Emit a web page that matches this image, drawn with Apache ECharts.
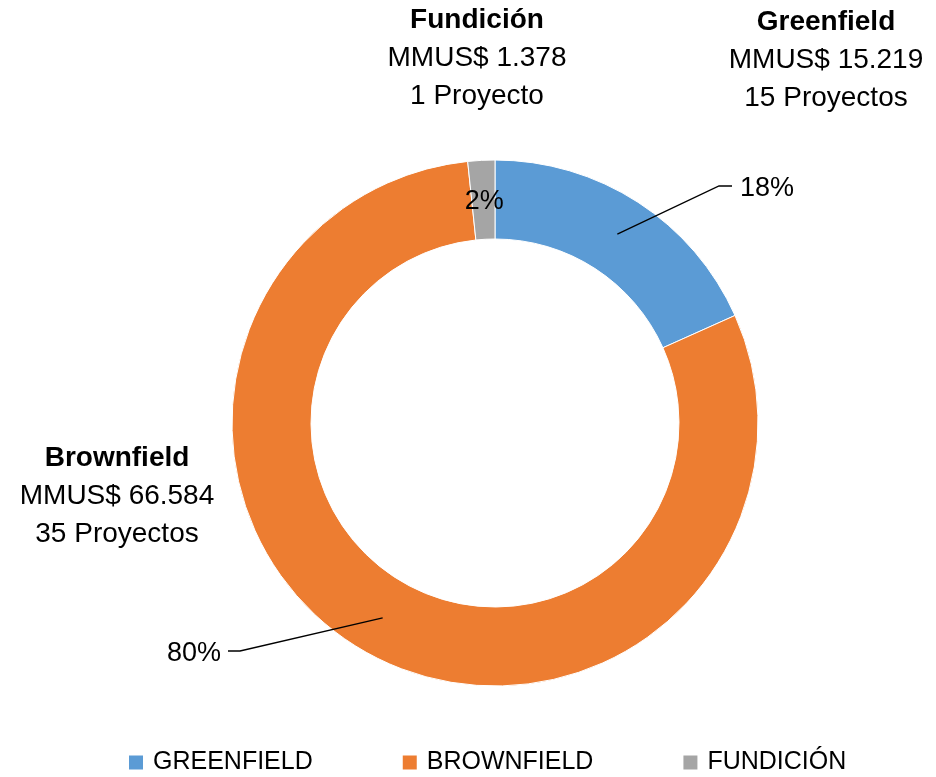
<!DOCTYPE html>
<html>
<head>
<meta charset="utf-8">
<script src="https://cdn.jsdelivr.net/npm/echarts@6/dist/echarts.min.js"></script>
<style>
  html, body { margin: 0; padding: 0; background: #fff; }
  #chart { width: 936px; height: 777px; }
</style>
</head>
<body>
<div id="chart"></div>
<script>
// datos del grafico
const categories = ['Greenfield', 'Brownfield', 'Fundición'];
const amounts = [15219, 66584, 1378];   // MMUS$
const projects = [15, 35, 1];
const colors = ['#5B9BD5', '#ED7D31', '#A5A5A5'];

const cx = 495, cy = 423;
const font = '"Liberation Sans", Arial, sans-serif';

function miles(n) {
  return String(n).replace(/\B(?=(\d{3})+(?!\d))/g, '.');
}
function notaTexto(i) {
  const p = projects[i] === 1 ? ' Proyecto' : ' Proyectos';
  return '{b|' + categories[i] + '}\nMMUS$ ' + miles(amounts[i]) + '\n' + projects[i] + p;
}

// posicion de las notas: [x centro, y superior]
const notas = [[826, 3], [117, 439], [477, 1]];

const datos = categories.map((c, i) => ({ name: c, value: amounts[i] }));

const chart = echarts.init(document.getElementById('chart'));
chart.setOption({
  animation: false,
  color: colors,
  legend: {
    top: 750,
    left: 127,
    padding: 0,
    itemWidth: 16,
    itemHeight: 16,
    itemGap: 88,
    icon: 'rect',
    data: categories,
    formatter: name => name.toUpperCase(),
    textStyle: { fontFamily: font, fontSize: 25, color: '#000', padding: [0, 0, 0, 4] }
  },
  graphic: notas.map((pos, i) => ({
    type: 'text',
    x: pos[0],
    y: pos[1],
    style: {
      text: notaTexto(i),
      align: 'center',
      verticalAlign: 'top',
      font: '28px ' + font,
      lineHeight: 38,
      fill: '#000',
      rich: {
        b: { fontWeight: 'bold', fontSize: 28, fontFamily: font, lineHeight: 38 }
      }
    }
  })),
  series: [{
    type: 'pie',
    z: 2,
    center: [cx, cy],
    radius: [184, 263],
    startAngle: 90,
    clockwise: true,
    label: { show: false },
    labelLine: { show: false },
    itemStyle: { borderColor: '#fff', borderWidth: 1 },
    data: datos
  }, {
    // capa de etiquetas sobre el anillo
    type: 'pie',
    z: 3,
    silent: true,
    legendHoverLink: false,
    center: [cx, cy],
    radius: [184, 263],
    startAngle: 90,
    clockwise: true,
    avoidLabelOverlap: false,
    itemStyle: { color: 'rgba(0,0,0,0)' },
    label: {
      position: 'outside',
      formatter: p => Math.round(p.percent) + '%',
      fontFamily: font,
      fontSize: 27,
      color: '#000'
    },
    labelLine: {
      show: true,
      lineStyle: { color: '#000', width: 1.3 }
    },
    labelLayout: params => {
      const i = params.dataIndex;
      if (i === 2) return {};
      const p0 = params.labelLinePoints[0];
      const a = Math.atan2(p0[1] - cy, p0[0] - cx);
      const start = [cx + 225 * Math.cos(a), cy + 225 * Math.sin(a)];
      if (i === 0) {
        return {
          x: 740, y: 189, align: 'left', verticalAlign: 'middle',
          labelLinePoints: [start, [719, 186], [732, 186]]
        };
      }
      return {
        x: 221, y: 654, align: 'right', verticalAlign: 'middle',
        labelLinePoints: [start, [240, 651], [228, 651]]
      };
    },
    data: datos.map((d, i) => {
      const e = { name: d.name, value: d.value };
      if (i === 2) {
        e.label = { position: 'inside', offset: [1, 5] };
        e.labelLine = { show: false };
      }
      return e;
    })
  }]
});
</script>
</body>
</html>
